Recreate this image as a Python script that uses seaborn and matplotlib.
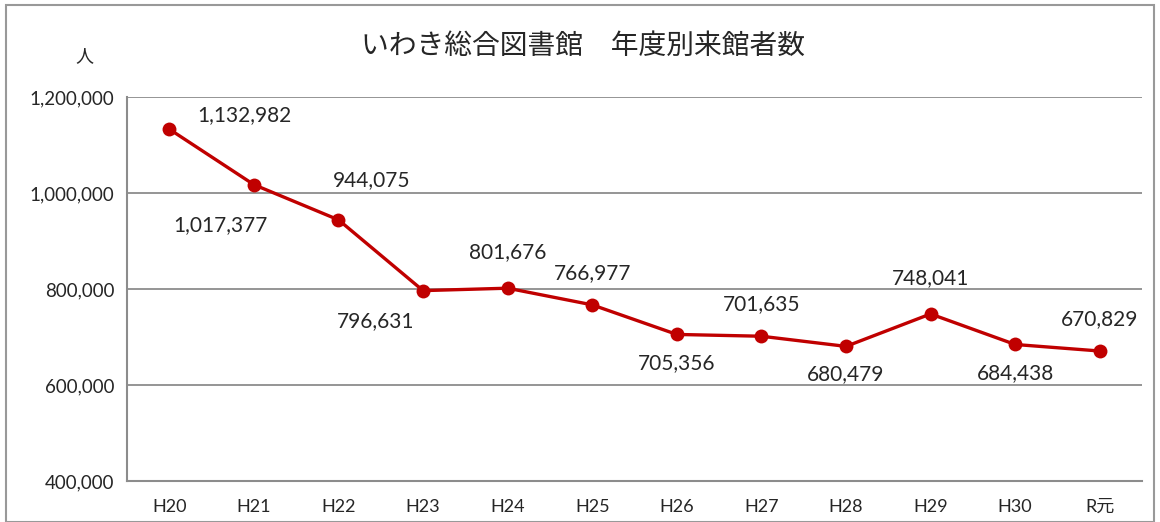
import pandas as pd
import matplotlib.pyplot as plt
import seaborn as sns
from matplotlib.patches import Rectangle

# 年度別来館者数（いわき総合図書館）
years = ['H20', 'H21', 'H22', 'H23', 'H24', 'H25', 'H26', 'H27', 'H28', 'H29', 'H30', 'R元']
visitors = [1132982, 1017377, 944075, 796631, 801676, 766977, 705356, 701635, 680479, 748041, 684438, 670829]
# ラベルの位置 (px)
label_dx = [75, -33, 33, -47, 0, 0, 0, 0, 0, 0, 0, 0]
label_dy = [14, -40, 40, -30, 36, 32, -29, 32, -28, 36, -29, 32]

sns.set_style('white')
plt.rcParams['font.family'] = ['Lato', 'Noto Sans CJK JP', 'DejaVu Sans']

df = pd.DataFrame({'year': years, 'visitors': visitors})
df['pos'] = range(len(df))

fig = plt.figure(figsize=(11.6, 5.22), dpi=100)
ax = fig.add_axes([0.1095, 0.0785, 0.875, 0.7357])

sns.lineplot(data=df, x='pos', y='visitors', ax=ax, color='#C00000', linewidth=2.4,
             marker='o', markersize=10, markeredgewidth=0)

for i, v in enumerate(visitors):
    ax.annotate(f'{v:,}', (i, v), xytext=(label_dx[i] * 0.72, label_dy[i] * 0.72),
                textcoords='offset points', ha='center', va='center', fontsize=15)

ax.set_xlim(-0.5, len(years) - 0.5)
ax.set_ylim(400000, 1200000)
ax.set_yticks(range(400000, 1200001, 200000))
ax.set_yticklabels([f'{t:,}' for t in range(400000, 1200001, 200000)], fontsize=13.5)
ax.set_xticks(range(len(years)))
ax.set_xticklabels(years, fontsize=13)
ax.set_xticks([i + 0.5 for i in range(len(years))], minor=True)
ax.tick_params(axis='x', which='major', length=0, pad=13)
ax.tick_params(axis='x', which='minor', length=5, color='#888888', width=1.2, direction='out')
ax.tick_params(axis='y', length=5, color='#888888', width=1.2, direction='out', pad=4)
ax.grid(axis='y', color='#8c8c8c', linewidth=1.3)
ax.set_xlabel('')
ax.set_ylabel('')
for side in ['top', 'right']:
    ax.spines[side].set_visible(False)
for side in ['left', 'bottom']:
    ax.spines[side].set_color('#8c8c8c')
    ax.spines[side].set_linewidth(1.5)

fig.text(0.503, 0.913, 'いわき総合図書館\u3000年度別来館者数', ha='center', va='center',
         fontsize=20, family=['Noto Sans CJK JP'])
fig.text(0.073, 0.893, '人', ha='center', va='center', fontsize=13, family=['Noto Sans CJK JP'])

# 外枠
fig.patches.append(Rectangle((0.005, 0.0), 0.99, 0.99, transform=fig.transFigure,
                             fill=False, edgecolor='#999999', linewidth=1.5))

fig.savefig('out.png', dpi=100)
